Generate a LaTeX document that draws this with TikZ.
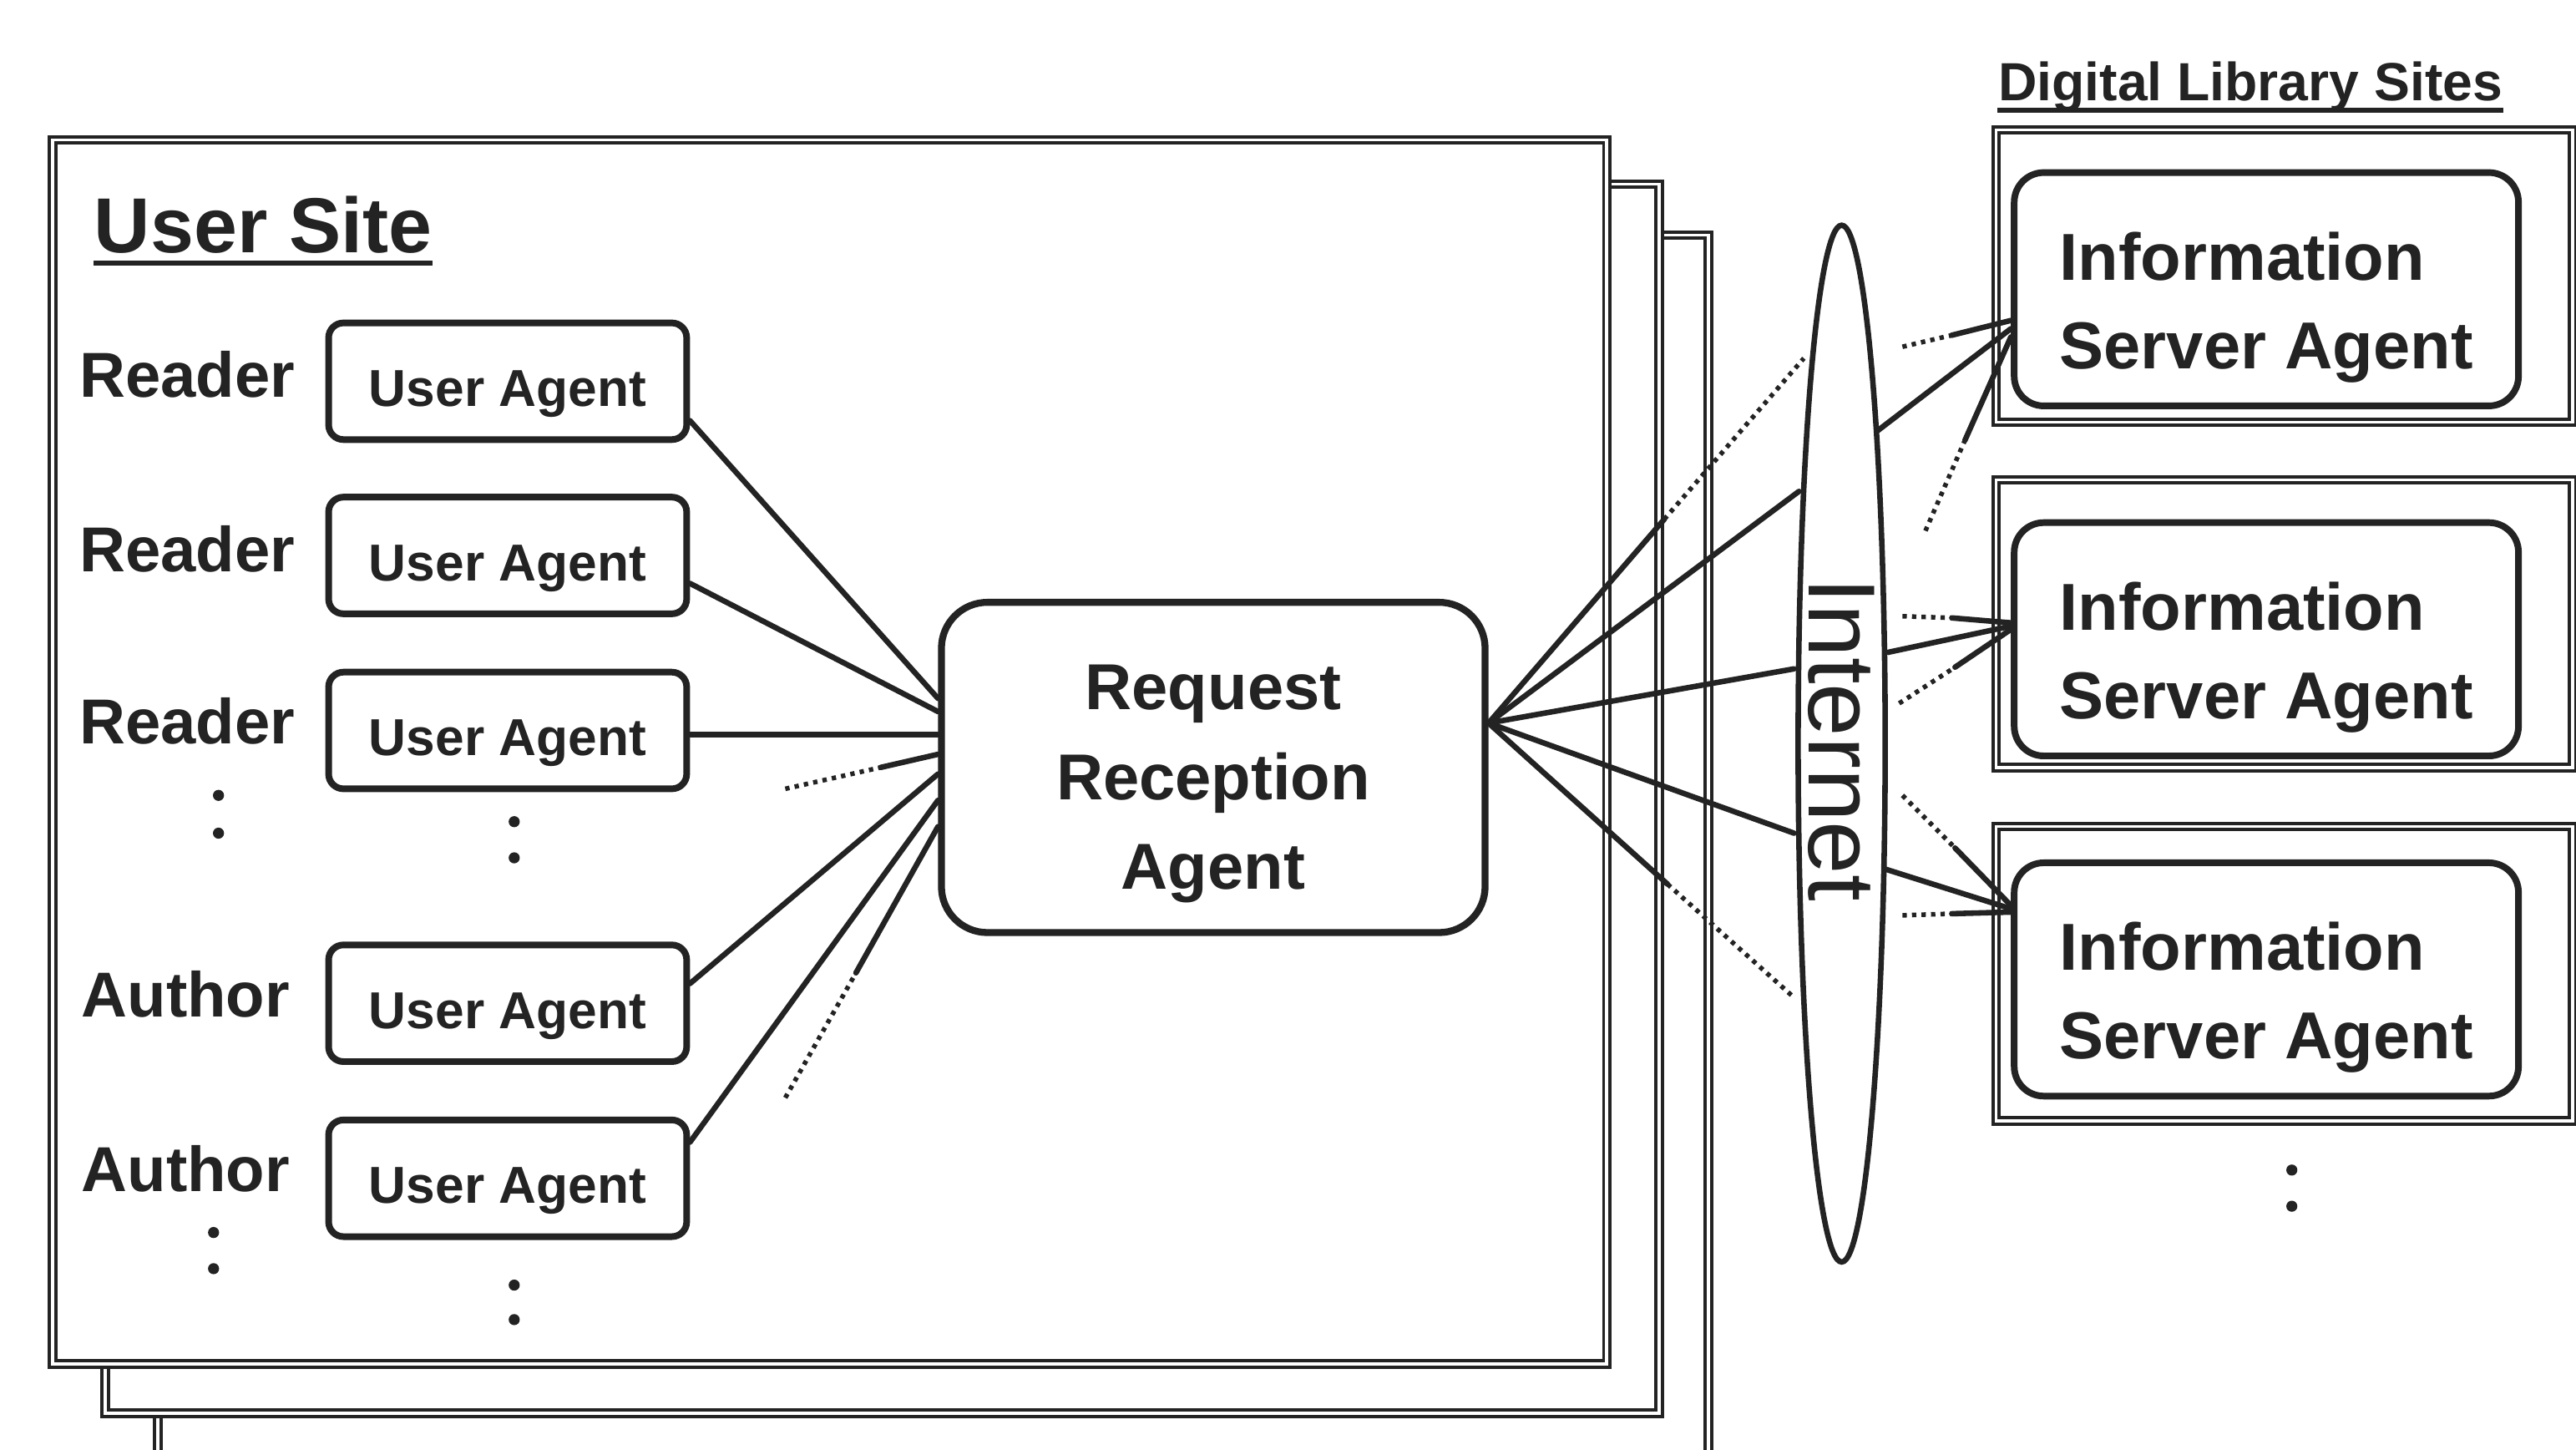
\documentclass[tikz,border=0pt]{standalone}
\usepackage{fontspec}
\setmainfont{Liberation Sans}
\usetikzlibrary{shapes.geometric,calc}
\definecolor{ink}{RGB}{35,35,35}

\begin{document}
\begin{tikzpicture}[x=0.02cm, y=-0.02cm,
  frame/.style={draw=ink, line width=1.15pt, double=white, double distance=1pt, fill=white},
  uabox/.style={draw=ink, line width=2.3pt, rounded corners=0.18cm, fill=white,
    minimum width=4.36cm, minimum height=1.42cm, inner sep=0pt, text=ink,
    text height=17.4pt, text depth=0pt,
    font=\bfseries\fontsize{18}{20}\selectfont},
  rrabox/.style={draw=ink, line width=2.4pt, rounded corners=0.56cm, fill=white,
    minimum width=6.62cm, minimum height=4.02cm, inner sep=0pt},
  rratext/.style={inner sep=0pt, align=center, text=ink,
    font=\bfseries\fontsize{22.5}{31}\selectfont},
  isabox/.style={draw=ink, line width=2.3pt, rounded corners=0.36cm, fill=white,
    minimum width=6.14cm, minimum height=2.84cm, inner sep=0pt},
  isatext/.style={inner sep=0pt, align=left, text=ink,
    font=\bfseries\fontsize{23}{30.5}\selectfont},
  role/.style={inner sep=0pt, text=ink, font=\bfseries\fontsize{22}{24}\selectfont},
  heading/.style={inner sep=0pt, text=ink, anchor=base west},
  uline/.style={draw=ink, line width=1.6pt},
  netshape/.style={ellipse, draw=ink, line width=1.9pt, inner sep=0pt,
    minimum width=1.06cm, minimum height=12.62cm},
  link/.style={draw=ink, line width=1.9pt, line cap=round},
  faint/.style={draw=ink, line width=1.6pt, dash pattern=on 1.5pt off 1.8pt},
  vdot/.style={circle, fill=ink, inner sep=0pt, minimum size=0.135cm}]

\useasboundingbox (0,0) rectangle (1568,882);
\clip (0,0) rectangle (1568,882);

% stacked user site frames, back to front
\draw[frame] (96,143) rectangle (1040,960);
\draw[frame] (64,112) rectangle (1010,860);
\draw[frame] (32,85) rectangle (978,830);

% user site heading
\node[heading, font=\bfseries\fontsize{27}{29}\selectfont] (usersite) at (57,154) {User Site};
\draw[uline] ($(usersite.base west)+(0,6)$) -- ($(usersite.base east)+(0,6)$);

% readers and authors
\node[role] (r1) at (114,228) {Reader};
\node[role] (r2) at (114,334) {Reader};
\node[role] (r3) at (114,439) {Reader};
\node[role] (a1) at (113,605) {Author};
\node[role] (a2) at (113,711) {Author};

% user agents
\node[uabox] (ua1) at (309,232) {User Agent};
\node[uabox] (ua2) at (309,338) {User Agent};
\node[uabox] (ua3) at (309,444.5) {User Agent};
\node[uabox] (ua4) at (309,610.5) {User Agent};
\node[uabox] (ua5) at (309,717) {User Agent};

% continuation marks
\node[vdot] (rd1) at (133,484) {};
\node[vdot] (rd2) at (133,507) {};
\node[vdot] (ud1) at (313,500) {};
\node[vdot] (ud2) at (313,522) {};
\node[vdot] (ad1) at (130,750) {};
\node[vdot] (ad2) at (130,772) {};
\node[vdot] (ud3) at (313,782) {};
\node[vdot] (ud4) at (313,803) {};

% request reception agent
\node[rrabox] (rra) at (738.5,467) {};
\node[rratext] (rralabel) at ($(rra.center)+(0,10)$) {Request\\Reception\\Agent};

% internet
\node[netshape] (net) at (1121,452.5) {};
\node[rotate=-90, inner sep=0pt, text=ink, font=\fontsize{33}{35}\selectfont] (nettext) at (1121,450) {Internet};

% digital library sites
\node[heading, font=\bfseries\fontsize{18.6}{20}\selectfont] (dls) at (1216,61) {Digital Library Sites};
\draw[uline] ($(dls.base west)+(0,6)$) -- ($(dls.base east)+(0,6)$);

\draw[frame] (1215,79) rectangle (1566,257);
\draw[frame] (1215,292) rectangle (1566,467);
\draw[frame] (1215,503) rectangle (1566,682);

\node[isabox] (isa1) at (1379.5,176) {};
\node[isabox] (isa2) at (1379.5,389) {};
\node[isabox] (isa3) at (1379.5,596) {};
\node[isatext] (isa1label) at ($(isa1.center)+(0,11)$) {Information\\Server Agent};
\node[isatext] (isa2label) at ($(isa2.center)+(0,11)$) {Information\\Server Agent};
\node[isatext] (isa3label) at ($(isa3.center)+(0,11)$) {Information\\Server Agent};

\node[vdot] (sd1) at (1395,712) {};
\node[vdot] (sd2) at (1395,734) {};

% user agents to request reception agent
\draw[link] ($(ua1.east)+(0,24)$) -- ($(rra.west)+(0,-42)$);
\draw[link] ($(ua2.east)+(0,17)$) -- ($(rra.west)+(0,-34)$);
\draw[link] ($(ua3.east)+(0,2.5)$) -- ($(rra.west)+(0,-20)$);
\draw[link] ($(ua4.east)+(0,-12)$) -- ($(rra.west)+(0,4)$);
\draw[link] ($(ua5.east)+(0,-22)$) -- ($(rra.west)+(0,20)$);

\coordinate (more1) at (478,480);
\coordinate (more1s) at (536,467);
\draw[faint] (more1) -- (more1s);
\draw[link] (more1s) -- ($(rra.west)+(0,-8)$);

\coordinate (more2) at (478,668);
\coordinate (more2s) at (521,592);
\draw[faint] (more2) -- (more2s);
\draw[link] (more2s) -- ($(rra.west)+(0,36)$);

% request reception agent to the internet
\coordinate (hubR) at ($(rra.east)+(0,-27)$);
\coordinate (n1) at (1098,218);
\coordinate (n1s) at (1013,316);
\coordinate (n2) at (1095,299);
\coordinate (n3) at (1092,407);
\coordinate (n4) at (1092,507);
\coordinate (n5) at (1092,607);
\coordinate (n5s) at (1015,538);
\draw[link] (hubR) -- (n1s);
\draw[faint] (n1s) -- (n1);
\draw[link] (hubR) -- (n2);
\draw[link] (hubR) -- (n3);
\draw[link] (hubR) -- (n4);
\draw[link] (hubR) -- (n5s);
\draw[faint] (n5s) -- (n5);

% the internet to information server agents
\coordinate (s1a) at (1158,211);
\coordinate (s1as) at (1188,204);
\coordinate (s1b) at (1143,262);
\coordinate (s1c) at (1172,323);
\coordinate (s1cs) at (1196,268);
\draw[faint] (s1a) -- (s1as);
\draw[link] (s1as) -- ($(isa1.west)+(0,19)$);
\draw[link] (s1b) -- ($(isa1.west)+(0,24)$);
\draw[faint] (s1c) -- (s1cs);
\draw[link] (s1cs) -- ($(isa1.west)+(0,29)$);

\coordinate (s2a) at (1158,375);
\coordinate (s2as) at (1188,376);
\coordinate (s2b) at (1149,397);
\coordinate (s2c) at (1156,428);
\coordinate (s2cs) at (1190,406);
\draw[faint] (s2a) -- (s2as);
\draw[link] (s2as) -- ($(isa2.west)+(0,-10)$);
\draw[link] (s2b) -- ($(isa2.west)+(0,-8)$);
\draw[faint] (s2c) -- (s2cs);
\draw[link] (s2cs) -- ($(isa2.west)+(0,-6)$);

\coordinate (s3a) at (1158,484);
\coordinate (s3as) at (1190,516);
\coordinate (s3b) at (1148,529);
\coordinate (s3c) at (1158,557);
\coordinate (s3cs) at (1188,556);
\draw[faint] (s3a) -- (s3as);
\draw[link] (s3as) -- ($(isa3.west)+(0,-45)$);
\draw[link] (s3b) -- ($(isa3.west)+(0,-43)$);
\draw[faint] (s3c) -- (s3cs);
\draw[link] (s3cs) -- ($(isa3.west)+(0,-41)$);

\end{tikzpicture}
\end{document}
